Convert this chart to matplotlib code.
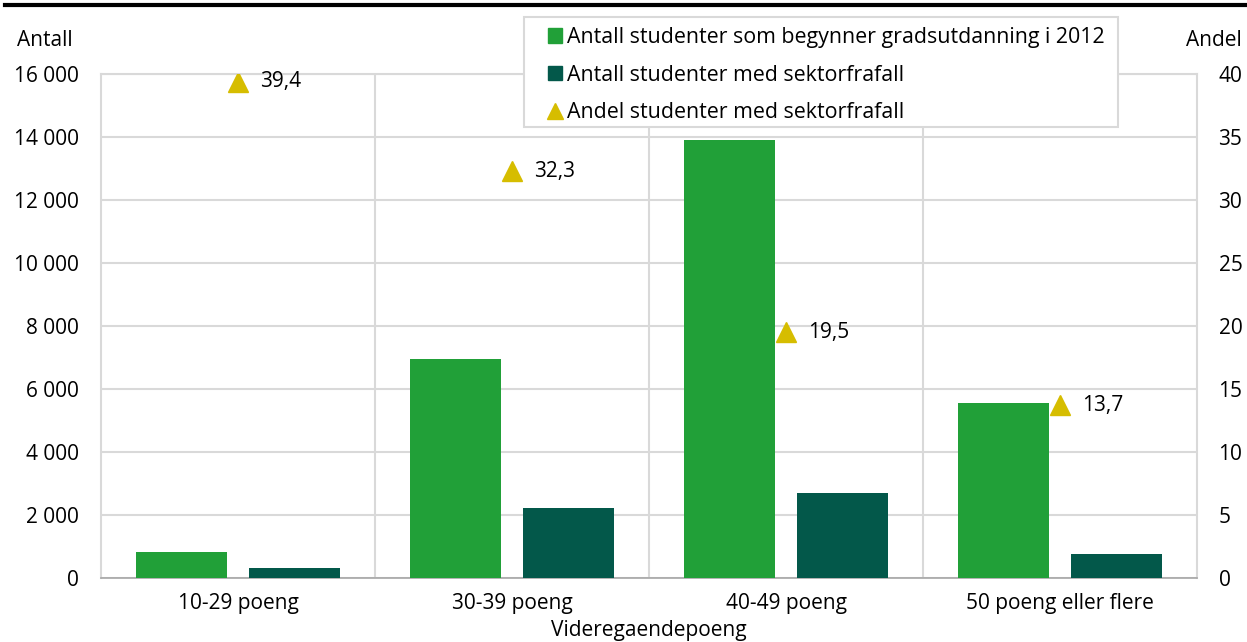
import matplotlib
matplotlib.use("Agg")
import matplotlib.pyplot as plt
from matplotlib.lines import Line2D
from matplotlib.patches import Patch, Rectangle
import numpy as np

categories = ["10-29 poeng", "30-39 poeng", "40-49 poeng", "50 poeng eller flere"]
begynner = [825, 6950, 13900, 5570]
frafall = [320, 2230, 2700, 750]
andel = [39.4, 32.3, 19.5, 13.7]
andel_labels = ["39,4", "32,3", "19,5", "13,7"]
left_ticks = [0, 2000, 4000, 6000, 8000, 10000, 12000, 14000, 16000]
right_ticks = [0, 5, 10, 15, 20, 25, 30, 35, 40]

plt.rcParams['font.family'] = ['Open Sans', 'DejaVu Sans']
FS = 15
GREEN = "#21a038"
DARK = "#03584a"
YELLOW = "#d6bd00"
GRID = "#d9d9d9"

W, H = 1247, 642
fig = plt.figure(figsize=(W/100, H/100), dpi=100)
ax = fig.add_axes([101/W, 1-578/H, (1197-101)/W, (578-74)/H])
x = np.arange(len(categories))
bw = 0.33
ax.bar(x - 0.206, begynner, bw, color=GREEN, zorder=3)
ax.bar(x + 0.206, frafall, bw, color=DARK, zorder=3)
ax.set_xlim(-0.5, 3.5)
ax.set_ylim(0, 16000)
ax.set_yticks(left_ticks)
ax.set_yticklabels([f"{v:,}".replace(",", " ") for v in left_ticks], fontsize=FS)
ax.set_xticks(x)
ax.set_xticklabels(categories, fontsize=FS)
ax.set_xticks(np.arange(0.5, 3.5, 1), minor=True)
ax.tick_params(axis='y', length=0, pad=16)
ax.tick_params(axis='x', which='both', length=0, pad=11)
ax.grid(axis='y', color=GRID, lw=1.5, zorder=0)
ax.grid(axis='x', which='minor', color=GRID, lw=1.5, zorder=0)
ax.set_xlabel("Videregaendepoeng", fontsize=FS, labelpad=4)
for s in ['left', 'right', 'top']:
    ax.spines[s].set_color(GRID)
    ax.spines[s].set_linewidth(1.5)
ax.spines['bottom'].set_color("#a6a6a6")
ax.spines['bottom'].set_linewidth(1.2)

ax2 = ax.twinx()
ax2.set_ylim(0, 40)
ax2.set_yticks(right_ticks)
ax2.set_yticklabels([str(v) for v in right_ticks], fontsize=FS)
ax2.tick_params(axis='y', length=0, pad=15.5)
for s in ax2.spines.values():
    s.set_visible(False)
ax2.plot(x, andel, linestyle='none', marker='^', markersize=14, color=YELLOW, zorder=5)
for xi, yi, lab in zip(x, andel, andel_labels):
    ax2.annotate(lab, (xi, yi), xytext=(16, 0), textcoords='offset points', va='center', ha='left', fontsize=FS)

fig.text(17/W, 1-40/H, "Antall", fontsize=FS, va='center', ha='left')
fig.text(1242/W, 1-40/H, "Andel", fontsize=FS, va='center', ha='right')

fig.add_artist(Line2D([5/W, 1.0], [1-5/H, 1-5/H], color='black', lw=3, transform=fig.transFigure))

# legend frame
fig.add_artist(Rectangle((524/W, 1-127/H), (1118-524)/W, (127-17)/H, transform=fig.transFigure,
                         facecolor='white', edgecolor=GRID, lw=1.5, zorder=10))
handles = [Patch(color=GREEN, label="Antall studenter som begynner gradsutdanning i 2012"),
           Patch(color=DARK, label="Antall studenter med sektorfrafall"),
           Line2D([], [], linestyle='none', marker='^', markersize=11, color=YELLOW,
                  label="Andel studenter med sektorfrafall")]
leg = fig.legend(handles=handles, loc='upper left', bbox_to_anchor=(548/W, 1-27/H),
                 fontsize=15.4, frameon=False, handlelength=0.65, handleheight=0.65,
                 handletextpad=0.25, labelspacing=0.78, borderpad=0.0, borderaxespad=0)
leg.set_zorder(11)

fig.savefig("out.png", dpi=100)
